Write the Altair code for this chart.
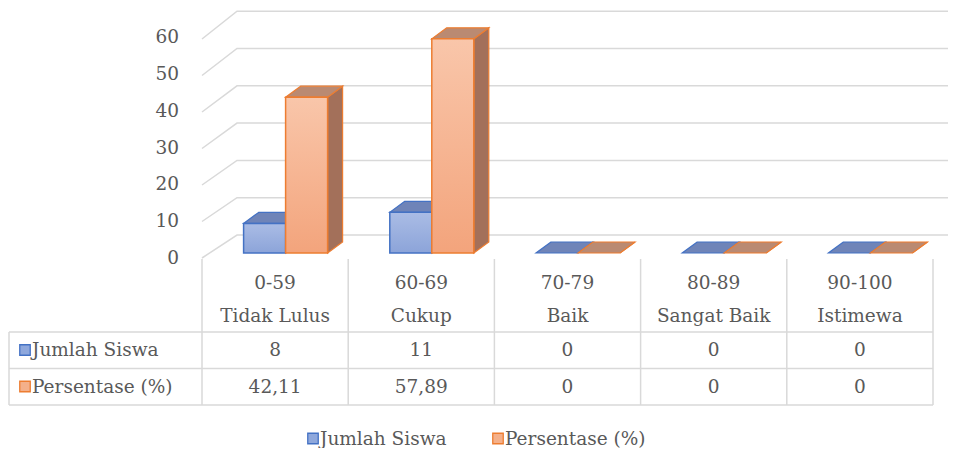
import altair as alt
import pandas as pd

# ---------------- data ----------------
ranges = ["0-59", "60-69", "70-79", "80-89", "90-100"]
grades = ["Tidak Lulus", "Cukup", "Baik", "Sangat Baik", "Istimewa"]
jumlah = [8, 11, 0, 0, 0]
persen = [42.11, 57.89, 0, 0, 0]
persen_text = ["42,11", "57,89", "0", "0", "0"]
jumlah_text = ["8", "11", "0", "0", "0"]
series = ["Jumlah Siswa", "Persentase (%)"]
y_ticks = [0, 10, 20, 30, 40, 50, 60]

# ---------------- layout helpers (style / geometry) ----------------
W, H = 940, 440
COL = 146.2          # px per category column
X0 = 194             # view x of first column boundary
Y0 = 245             # view y of value 0 (bar front)
PXU = 3.7            # px per value unit

def u(page_x):
    return (page_x - 8 - X0) / COL

def v(page_y):
    return (Y0 + 8 - page_y) / PXU

XS = alt.Scale(domain=[-X0 / COL, (W - X0) / COL], nice=False, zero=False)
YS = alt.Scale(domain=[(Y0 - H) / PXU, Y0 / PXU], nice=False, zero=False)

FONT = "DejaVu Serif"
FS = 18.5
TXT = "#595959"
GRID = "#D9D9D9"

BW = 42 / COL        # bar width
SHIFT = 10.5 / COL   # pair shift from column centre
DDX = 15 / COL       # depth dx
DDY = 11 / PXU       # depth dy

BLUE = dict(edge="#4472C4", top="#6F84B8", side="#5E74A8", g1="#AABCE5", g2="#8CA4D9")
ORNG = dict(edge="#ED7D31", top="#BA8A72", side="#A3705A", g1="#F9C6AA", g2="#F3A47C")

def X(f):
    return alt.X(f, type="quantitative", scale=XS, axis=None)

def Y(f):
    return alt.Y(f, type="quantitative", scale=YS, axis=None)

layers = []

# ---------------- back wall gridlines ----------------
grid_rows = []
for t in y_ticks:
    vf = v(258 - 3.65 * t)
    vb = v(235 - 3.73 * t)
    grid_rows += [dict(t=t, o=0, x=0, y=vf), dict(t=t, o=1, x=u(237), y=vb), dict(t=t, o=2, x=(W - X0) / COL, y=vb)]
grid_df = pd.DataFrame(grid_rows)
layers.append(alt.Chart(grid_df).mark_line(color=GRID, strokeWidth=1.5).encode(
    x=X("x"), y=Y("y"), detail="t:N", order="o:Q"))

# axis labels
ax_df = pd.DataFrame({"t": y_ticks, "lab": [str(t) for t in y_ticks]})
ax_df["x"] = u(179)
ax_df["y"] = [v(258 - 3.68 * t) for t in y_ticks]
layers.append(alt.Chart(ax_df).mark_text(align="right", baseline="middle", font=FONT, fontSize=FS, color=TXT).encode(
    x=X("x"), y=Y("y"), text="lab:N"))

# ---------------- 3D bars ----------------
def bar_layers(vals, s_idx, col):
    front, top, side = [], [], []
    for i, val in enumerate(vals):
        pc = i + 0.5 + SHIFT
        xl = pc - BW if s_idx == 0 else pc
        xr = xl + BW
        bid = f"{s_idx}-{i}"
        front.append(dict(id=bid, xl=xl, xr=xr, y0=0, v=val))
        top += [dict(id=bid, yy=val, xa=xl, xb=xr), dict(id=bid, yy=val + DDY, xa=xl + DDX, xb=xr + DDX)]
        side += [dict(id=bid, xx=xr, ya=0, yb=val), dict(id=bid, xx=xr + DDX, ya=DDY, yb=val + DDY)]
    out = []
    out.append(alt.Chart(pd.DataFrame(side)).mark_area(orient="vertical", fill=col["side"], stroke=col["edge"], strokeWidth=1.2).encode(
        x=X("xx"), y=Y("ya"), y2=alt.Y2("yb"), detail="id:N"))
    out.append(alt.Chart(pd.DataFrame(top)).mark_area(orient="horizontal", fill=col["top"], stroke=col["edge"], strokeWidth=1.2).encode(
        y=Y("yy"), x=X("xa"), x2=alt.X2("xb"), detail="id:N"))
    grad = alt.Gradient(gradient="linear", x1=0, x2=0, y1=0, y2=1,
                        stops=[alt.GradientStop(color=col["g1"], offset=0), alt.GradientStop(color=col["g2"], offset=1)])
    fdf = pd.DataFrame(front)
    fdf = fdf[fdf["v"] > 0]
    out.append(alt.Chart(fdf).mark_rect(fill=grad, stroke=col["edge"], strokeWidth=1.5).encode(
        x=X("xl"), x2=alt.X2("xr"), y=Y("y0"), y2=alt.Y2("v")))
    return out

layers += bar_layers(jumlah, 0, BLUE)
layers += bar_layers(persen, 1, ORNG)

# ---------------- data table ----------------
lines = []
for k in range(6):  # column boundaries
    lines.append(dict(id=f"c{k}", xa=k, xb=k, ya=v(259), yb=v(405)))
lines.append(dict(id="l", xa=u(9), xb=u(9), ya=v(332), yb=v(405)))
for j, py in enumerate([332, 368.5, 405]):
    lines.append(dict(id=f"h{j}", xa=u(9), xb=5, ya=v(py), yb=v(py)))
ldf = pd.DataFrame(lines)
layers.append(alt.Chart(ldf).mark_rule(color=GRID, strokeWidth=1.5).encode(
    x=X("xa"), x2=alt.X2("xb"), y=Y("ya"), y2=alt.Y2("yb")))

cat_df = pd.DataFrame({"r": ranges, "g": grades, "x": [i + 0.5 for i in range(5)]})
cat_df["y1"] = v(283)
cat_df["y2"] = v(316)
layers.append(alt.Chart(cat_df).mark_text(font=FONT, fontSize=FS, color=TXT, baseline="middle").encode(
    x=X("x"), y=Y("y1"), text="r:N"))
layers.append(alt.Chart(cat_df).mark_text(font=FONT, fontSize=FS, color=TXT, baseline="middle").encode(
    x=X("x"), y=Y("y2"), text="g:N"))

val_rows = []
for i in range(5):
    val_rows.append(dict(x=i + 0.5, y=v(350), t=jumlah_text[i]))
    val_rows.append(dict(x=i + 0.5, y=v(386.5), t=persen_text[i]))
layers.append(alt.Chart(pd.DataFrame(val_rows)).mark_text(font=FONT, fontSize=FS, color=TXT, baseline="middle").encode(
    x=X("x"), y=Y("y"), text="t:N"))

# row labels + legend (same look)
leg = pd.DataFrame([
    dict(s=series[0], sx=u(25), tx=u(32), y=v(350)),
    dict(s=series[1], sx=u(25), tx=u(32), y=v(386.5)),
    dict(s=series[0], sx=u(313), tx=u(320), y=v(438.5)),
    dict(s=series[1], sx=u(498), tx=u(505), y=v(438.5)),
])
cscale = alt.Scale(domain=series, range=["#8FA8DC", "#F4B08A"])
sscale = alt.Scale(domain=series, range=[BLUE["edge"], ORNG["edge"]])
layers.append(alt.Chart(leg).mark_point(shape="square", size=110, filled=True, strokeWidth=1.3, opacity=1).encode(
    x=X("sx"), y=Y("y"),
    fill=alt.Fill("s:N", scale=cscale, legend=None),
    stroke=alt.Stroke("s:N", scale=sscale, legend=None)))
layers.append(alt.Chart(leg).mark_text(font=FONT, fontSize=FS, color=TXT, align="left", baseline="middle").encode(
    x=X("tx"), y=Y("y"), text="s:N"))

chart = alt.layer(*layers).properties(
    width=W, height=H, autosize=alt.AutoSizeParams(type="none"), padding=0
).configure_view(stroke=None)

chart.save("out.html", embed_options={"renderer": "svg", "actions": False})
